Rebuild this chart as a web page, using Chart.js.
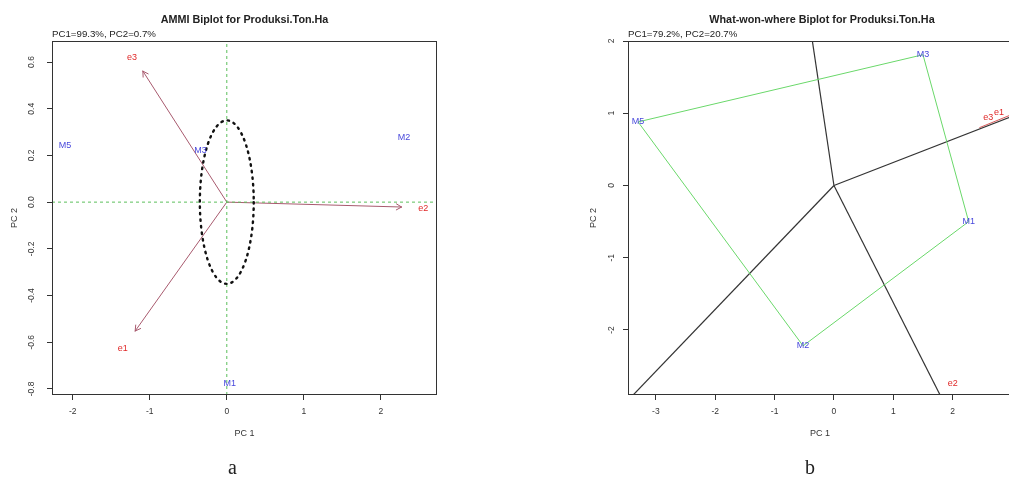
<!DOCTYPE html>
<html lang="en">
<head>
<meta charset="UTF-8">
<title>AMMI and What-won-where biplots</title>
<style>
  html, body { margin: 0; padding: 0; background: #fff; overflow: hidden; }
  #wrap { position: relative; width: 1009px; height: 479px; overflow: hidden; }
  canvas { position: absolute; top: 0; }
  #chartA { left: 0; }
  #chartB { left: 504px; }
  .cap { position: absolute; top: 457px; font: 20px/20px 'Liberation Serif', 'DejaVu Serif', serif; color: #222; }
</style>
</head>
<body>
<div id="wrap">
  <canvas id="chartA" width="504" height="479"></canvas>
  <canvas id="chartB" width="520" height="479"></canvas>
  <div class="cap" style="left:228px">a</div>
  <div class="cap" style="left:805px">b</div>
</div>
<script src="https://cdn.jsdelivr.net/npm/chart.js"></script>
<script>
// ---- (a) AMMI biplot ----
const ammiGenotypes = ['M5', 'M3', 'M2', 'M1'];
const ammiGenoPC1 = [-2.10, -0.34, 2.30, 0.04];
const ammiGenoPC2 = [0.244, 0.223, 0.278, -0.775];
const ammiEnvs = ['e1', 'e2', 'e3'];
const ammiEnvPC1 = [-1.35, 2.55, -1.23];     // label positions
const ammiEnvPC2 = [-0.625, -0.026, 0.621];
const ammiArrowPC1 = [-1.19, 2.27, -1.09];   // arrow tips
const ammiArrowPC2 = [-0.552, -0.021, 0.561];
const ammiCircleRadius = 0.35;
const ammiXRange = [-2.27, 2.73];
const ammiYRange = [-0.826, 0.69];
const ammiXTicks = [-2, -1, 0, 1, 2];
const ammiYTicks = [-0.8, -0.6, -0.4, -0.2, 0, 0.2, 0.4, 0.6];

// ---- (b) What-won-where biplot ----
const wwwGenotypes = ['M5', 'M3', 'M1', 'M2'];   // hull order
const wwwGenoPC1 = [-3.30, 1.50, 2.27, -0.52];
const wwwGenoPC2 = [0.88, 1.81, -0.50, -2.22];
const wwwEnvs = ['e2', 'e3', 'e1'];
const wwwEnvPC1 = [2.00, 2.60, 2.78];
const wwwEnvPC2 = [-2.74, 0.94, 1.01];
const wwwRayPC1 = [-0.40, 3.20, 1.85, -3.50];   // sector boundaries from origin
const wwwRayPC2 = [2.20, 1.02, -3.00, -3.00];
const wwwEnvLinePC1 = [2.45, 3.20];
const wwwEnvLinePC2 = [0.80, 1.05];
const wwwXRange = [-3.47, 3.0];
const wwwYRange = [-2.9, 2.0];
const wwwXTicks = [-3, -2, -1, 0, 1, 2];
const wwwYTicks = [-2, -1, 0, 1, 2];

const SANS = '"Liberation Sans", Arial, Helvetica, sans-serif';
const tickFont = { family: SANS, size: 8.5 };
const axTitleFont = { family: SANS, size: 9 };
const BLUE = '#4848dc';
const RED = '#e02828';

const biplotDecor = {
  id: 'biplotDecor',
  afterDatasetsDraw(chart, args, opts) {
    const { ctx, chartArea: a, scales: { x, y } } = chart;
    const ox = x.getPixelForValue(0), oy = y.getPixelForValue(0);
    ctx.save();
    ctx.beginPath();
    ctx.rect(a.left, a.top, a.right - a.left, a.bottom - a.top);
    ctx.clip();

    if (opts.circle) {
      const rx = x.getPixelForValue(opts.circle) - ox;
      const ry = oy - y.getPixelForValue(opts.circle);
      ctx.beginPath();
      ctx.ellipse(ox, oy, rx, ry, 0, 0, Math.PI * 2);
      ctx.setLineDash([1.5, 5]);
      ctx.lineCap = 'round';
      ctx.lineWidth = 2.4;
      ctx.strokeStyle = '#111';
      ctx.stroke();
      ctx.setLineDash([]);
    }

    (opts.arrows || []).forEach(([px, py]) => {
      const tx = x.getPixelForValue(px), ty = y.getPixelForValue(py);
      const th = Math.atan2(ty - oy, tx - ox);
      ctx.beginPath();
      [-1, 1].forEach(s => {
        ctx.moveTo(tx, ty);
        ctx.lineTo(tx - 6 * Math.cos(th + s * Math.PI / 6), ty - 6 * Math.sin(th + s * Math.PI / 6));
      });
      ctx.strokeStyle = '#a85a6e';
      ctx.lineWidth = 1;
      ctx.stroke();
    });

    ctx.font = '9px ' + SANS;
    ctx.textAlign = 'center';
    ctx.textBaseline = 'middle';
    (opts.labels || []).forEach(l => {
      ctx.fillStyle = l.color;
      l.names.forEach((n, i) => ctx.fillText(n, x.getPixelForValue(l.px[i]), y.getPixelForValue(l.py[i])));
    });
    ctx.restore();

    ctx.save();
    ctx.strokeStyle = '#333';
    ctx.lineWidth = 1;
    ctx.strokeRect(a.left + 0.5, a.top + 0.5, a.right - a.left - 1, a.bottom - a.top - 1);
    ctx.fillStyle = '#222';
    ctx.font = 'bold 10.8px ' + SANS;
    ctx.textAlign = 'center';
    ctx.textBaseline = 'middle';
    ctx.fillText(opts.title, opts.titleX !== undefined ? opts.titleX : (a.left + a.right) / 2, 20);
    ctx.font = '9.7px ' + SANS;
    ctx.textAlign = 'left';
    ctx.fillText(opts.subtitle, a.left, 34);
    ctx.restore();
  }
};

function seg(x0, y0, x1, y1, color, extra) {
  return Object.assign({
    data: [{ x: x0, y: y0 }, { x: x1, y: y1 }],
    showLine: true, pointRadius: 0, borderColor: color, borderWidth: 1, fill: false
  }, extra || {});
}

function makeOptions(c) {
  return {
    responsive: false,
    animation: false,
    events: [],
    layout: { padding: c.padding },
    plugins: {
      legend: { display: false },
      tooltip: { enabled: false },
      biplotDecor: c.decor
    },
    scales: {
      x: {
        type: 'linear', min: c.xRange[0], max: c.xRange[1],
        afterBuildTicks: s => { s.ticks = c.xTicks.map(v => ({ value: v })); },
        afterFit: s => { s.height = 84; },
        grid: { drawOnChartArea: false, tickLength: 5, color: '#333' },
        border: { display: false },
        ticks: { padding: 7, color: '#333', font: tickFont, maxRotation: 0, autoSkip: false,
                 callback: v => c.xFmt(v) },
        title: { display: true, text: 'PC 1', color: '#333', font: axTitleFont, padding: { top: 0, bottom: 40 } }
      },
      y: {
        type: 'linear', min: c.yRange[0], max: c.yRange[1],
        afterBuildTicks: s => { s.ticks = c.yTicks.map(v => ({ value: v })); },
        afterFit: s => { s.width = 52; },
        grid: { drawOnChartArea: false, tickLength: 5, color: '#333' },
        border: { display: false },
        ticks: { padding: 8, color: '#333', font: tickFont, minRotation: 90, maxRotation: 90,
                 crossAlign: 'center', autoSkip: false, callback: v => c.yFmt(v) },
        title: { display: true, text: 'PC 2', color: '#333', font: axTitleFont, padding: { top: c.yTitlePad, bottom: 0 } }
      }
    }
  };
}

// ---- chart a ----
const dsA = [
  seg(0, ammiYRange[0], 0, ammiYRange[1], '#5cbf5c', { borderDash: [3, 3] }),
  seg(ammiXRange[0], 0, ammiXRange[1], 0, '#5cbf5c', { borderDash: [3, 3] })
];
ammiEnvs.forEach((e, i) => dsA.push(seg(0, 0, ammiArrowPC1[i], ammiArrowPC2[i], '#a85a6e')));

new Chart(document.getElementById('chartA'), {
  type: 'scatter',
  data: { datasets: dsA },
  options: makeOptions({
    padding: { left: 0, right: 67, top: 41, bottom: 0 },
    xRange: ammiXRange, yRange: ammiYRange, xTicks: ammiXTicks, yTicks: ammiYTicks,
    xFmt: v => String(v), yFmt: v => v.toFixed(1), yTitlePad: 9,
    decor: {
      title: 'AMMI Biplot for Produksi.Ton.Ha',
      subtitle: 'PC1=99.3%, PC2=0.7%',
      circle: ammiCircleRadius,
      arrows: ammiArrowPC1.map((v, i) => [v, ammiArrowPC2[i]]),
      labels: [
        { names: ammiGenotypes, px: ammiGenoPC1, py: ammiGenoPC2, color: BLUE },
        { names: ammiEnvs, px: ammiEnvPC1, py: ammiEnvPC2, color: RED }
      ]
    }
  }),
  plugins: [biplotDecor]
});

// ---- chart b ----
const hullX = wwwGenoPC1.concat([wwwGenoPC1[0]]);
const hullY = wwwGenoPC2.concat([wwwGenoPC2[0]]);
const dsB = [{
  data: hullX.map((v, i) => ({ x: v, y: hullY[i] })),
  showLine: true, pointRadius: 0, borderColor: '#6ad86a', borderWidth: 1, fill: false
}];
wwwRayPC1.forEach((v, i) => dsB.push(seg(0, 0, v, wwwRayPC2[i], '#333', { borderWidth: 1.2 })));
dsB.push(seg(wwwEnvLinePC1[0], wwwEnvLinePC2[0], wwwEnvLinePC1[1], wwwEnvLinePC2[1], '#d85a5a'));

new Chart(document.getElementById('chartB'), {
  type: 'scatter',
  data: { datasets: dsB },
  options: makeOptions({
    padding: { left: 72, right: 12, top: 41, bottom: 0 },
    xRange: wwwXRange, yRange: wwwYRange, xTicks: wwwXTicks, yTicks: wwwYTicks,
    xFmt: v => String(v), yFmt: v => String(v), yTitlePad: 12,
    decor: {
      title: 'What-won-where Biplot for Produksi.Ton.Ha',
      titleX: 318,
      subtitle: 'PC1=79.2%, PC2=20.7%',
      labels: [
        { names: wwwGenotypes, px: wwwGenoPC1, py: wwwGenoPC2, color: BLUE },
        { names: wwwEnvs, px: wwwEnvPC1, py: wwwEnvPC2, color: RED }
      ]
    }
  }),
  plugins: [biplotDecor]
});
</script>
</body>
</html>
